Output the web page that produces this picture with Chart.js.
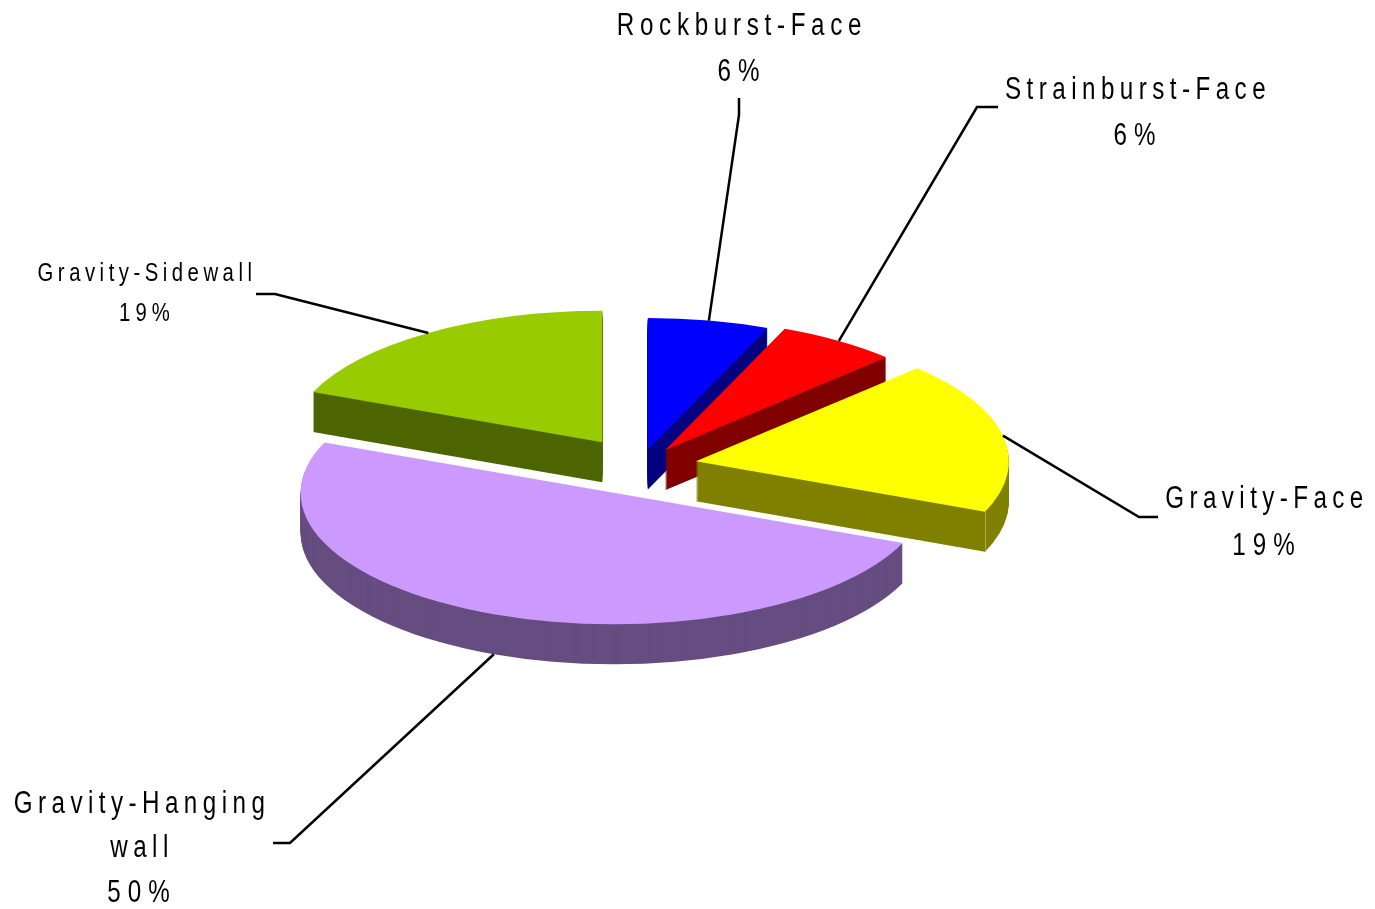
<!DOCTYPE html>
<html>
<head>
<meta charset="utf-8">
<style>html,body{margin:0;padding:0;background:#fff}canvas{display:block}</style>
<script src="https://cdn.jsdelivr.net/npm/chart.js@4/dist/chart.umd.js"></script>
</head>
<body>
<canvas id="c" width="1375" height="909"></canvas>
<script>
// Data
const categories = ["Rockburst-Face", "Strainburst-Face", "Gravity-Face", "Gravity-Hanging wall", "Gravity-Sidewall"];
const shares = [6.25, 6.25, 18.75, 50, 18.75];

// Styles
const topColors = ["#0000ff", "#ff0000", "#ffff00", "#cc99ff", "#99cc00"];
const sideColors = ["#000080", "#800000", "#808000", "#664d80", "#4d6600"];
const explode = [40, 45, 57, 69, 68];
const squash = 0.42, depth = 40, radius = 313, textStretch = 0.78;
const labelLayout = [
  {lines:["Rockburst-Face"], cx:742, base:[35,81], size:31, sp:7.3, pct:9, elbow:[[739,115],[739,98]]},
  {lines:["Strainburst-Face"], cx:1138, base:[99,145], size:31, sp:7.0, pct:9, elbow:[[977,107],[998,107]]},
  {lines:["Gravity-Face"], cx:1267, base:[508,555], size:31, sp:6.95, pct:9, elbow:[[1139,517],[1158,517]]},
  {lines:["Gravity-Hanging","wall"], cx:142, base:[813,857,902], size:31, sp:7.0, pct:9, elbow:[[290,843],[273,843]], side:true},
  {lines:["Gravity-Sidewall"], cx:147, base:[281,321], size:26, sp:5.8, pct:6.5, elbow:[[275,294],[256,294]]}
];
const FONT = '"Liberation Sans",Arial,sans-serif';

function flatOptions(color){
  return {backgroundColor:color,borderColor:color,borderWidth:0,borderAlign:'center',borderJoinStyle:'round',
    offset:0,spacing:0,angle:undefined,circular:true,borderRadius:0,selfJoin:false,borderDash:[],borderDashOffset:0};
}
const pie3d = {
  id:'pie3d',
  beforeDatasetDraw(chart,args){
    const ctx = chart.ctx, arcs = args.meta.data;
    const place = (arc,i,dy) => {
      const mid = (arc.startAngle+arc.endAngle)/2;
      ctx.translate(0,dy);
      ctx.translate(arc.x,arc.y); ctx.scale(1,squash); ctx.translate(-arc.x,-arc.y);
      ctx.translate(Math.cos(mid)*explode[i],Math.sin(mid)*explode[i]);
    };
    const order = [4,0,1,2,3];
    order.forEach(i=>{
      const arc = arcs[i], saved = arc.options;
      arc.options = flatOptions(sideColors[i]);
      for(let d=depth;d>=1;d--){ ctx.save(); place(arc,i,d); arc.draw(ctx); ctx.restore(); }
      arc.options = saved;
    });
    // faint seam where the yellow slice's cut face meets its rim
    {
      const arc = arcs[2], mid=(arc.startAngle+arc.endAngle)/2;
      const x = arc.x + Math.cos(mid)*explode[2] + Math.cos(arc.endAngle)*radius;
      const y = arc.y + (Math.sin(mid)*explode[2] + Math.sin(arc.endAngle)*radius)*squash;
      ctx.save(); ctx.strokeStyle='#a9a95a'; ctx.lineWidth=1;
      ctx.beginPath(); ctx.moveTo(Math.round(x)+.5,y); ctx.lineTo(Math.round(x)+.5,y+depth); ctx.stroke(); ctx.restore();
    }
    order.forEach(i=>{
      const arc = arcs[i], saved = arc.options;
      arc.options = flatOptions(topColors[i]);
      ctx.save(); place(arc,i,0); arc.draw(ctx); ctx.restore();
      arc.options = saved;
    });
    return false;
  },
  afterDatasetsDraw(chart){
    const ctx = chart.ctx, arcs = chart.getDatasetMeta(0).data;
    arcs.forEach((arc,i)=>{
      const L = labelLayout[i], mid = (arc.startAngle+arc.endAngle)/2;
      const c = Math.cos(mid), s = Math.sin(mid);
      const sx = arc.x + (explode[i]+radius)*c;
      const sy = arc.y + (explode[i]+radius)*s*squash + (L.side?depth:0);
      ctx.save();
      ctx.strokeStyle='#000'; ctx.lineWidth=2.5; ctx.lineJoin='miter';
      ctx.beginPath(); ctx.moveTo(sx,sy);
      L.elbow.forEach(p=>ctx.lineTo(p[0],p[1]));
      ctx.stroke();
      ctx.restore();
      ctx.save();
      ctx.fillStyle='#000';
      ctx.font = L.size+'px '+FONT;
      ctx.textAlign='center'; ctx.textBaseline='alphabetic';
      ctx.translate(L.cx,0); ctx.scale(textStretch,1);
      ctx.letterSpacing = L.sp+'px';
      L.lines.forEach((t,k)=>ctx.fillText(t,0,L.base[k]));
      ctx.letterSpacing = L.pct+'px';
      ctx.fillText(Math.round(shares[i])+'%',0,L.base[L.lines.length]);
      ctx.restore();
    });
  }
};
new Chart(document.getElementById('c'),{
  type:'pie',
  data:{labels:categories,datasets:[{data:shares,backgroundColor:topColors,borderWidth:0}]},
  options:{
    responsive:false,animation:false,radius:radius,rotation:0,
    layout:{padding:{right:95,top:23}},
    plugins:{legend:{display:false},tooltip:{enabled:false}}
  },
  plugins:[pie3d]
});
</script>
</body>
</html>
